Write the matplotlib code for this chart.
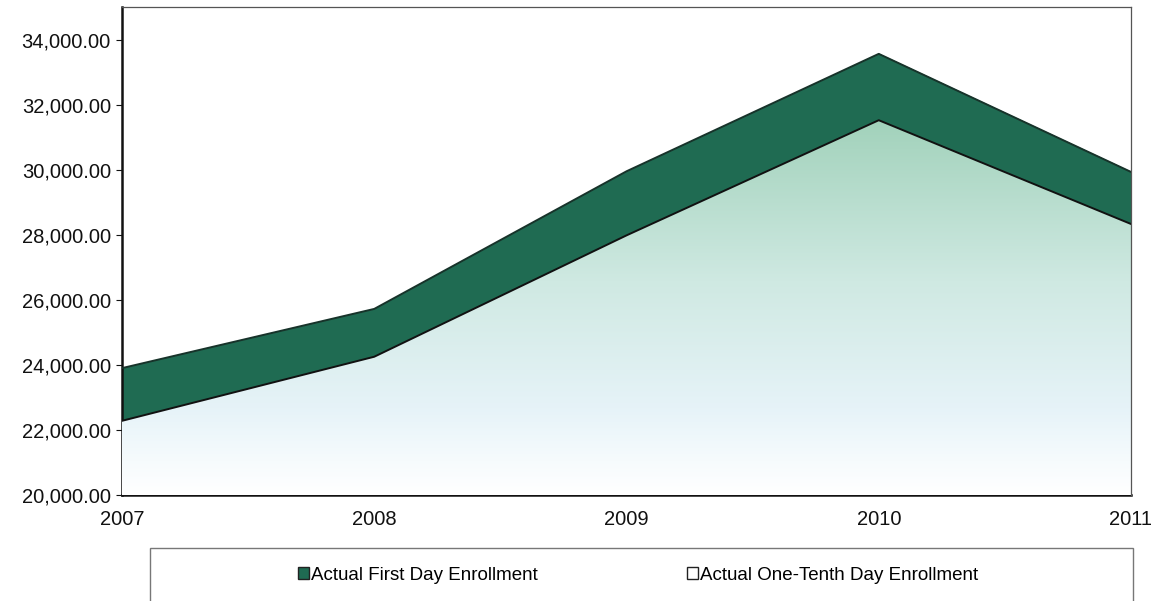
import numpy as np
import matplotlib.pyplot as plt
from matplotlib.colors import LinearSegmentedColormap
from matplotlib.patches import Polygon, Rectangle
from matplotlib.ticker import FuncFormatter

plt.rcParams['font.family'] = ['Liberation Sans', 'DejaVu Sans']

# Werte
jahre = [2007, 2008, 2009, 2010, 2011]
first_day = [23900, 25720, 29950, 33560, 29930]
one_tenth = [22280, 24250, 27980, 31520, 28330]
serien_namen = ['Actual First Day Enrollment', 'Actual One-Tenth Day Enrollment']

fig = plt.figure(figsize=(11.53, 6.01), dpi=100)
ax = fig.add_axes([122 / 1153, 1 - 495 / 601, (1131 - 122) / 1153, (495 - 7) / 601])

ymin, ymax = 20000, 35000

# dunkelgruene Flaeche (erster Tag)
ax.fill_between(jahre, ymin, first_day, color='#1f6b52', zorder=2)
ax.plot(jahre, first_day, color='#17332a', lw=1.4, zorder=4)

# Verlauf fuer die zweite Flaeche (zehnter Tag)
farben = LinearSegmentedColormap.from_list(
    'verlauf', [(0.0, '#ffffff'), (0.09, '#f6fbfd'), (0.23, '#e6f3f8'),
                (0.57, '#cfe9e2'), (1.0, '#a2d2bb')])
grad = np.linspace(0, 1, 256).reshape(-1, 1)
bild = ax.imshow(grad, cmap=farben, origin='lower', aspect='auto',
                 extent=[jahre[0], jahre[-1], ymin, max(one_tenth)], zorder=3)
poly = Polygon(list(zip(jahre, one_tenth)) + [(jahre[-1], ymin), (jahre[0], ymin)],
               closed=True, facecolor='none', edgecolor='none')
ax.add_patch(poly)
bild.set_clip_path(poly)
ax.plot(jahre, one_tenth, color='#111111', lw=1.4, zorder=4)

ax.set_xlim(jahre[0], jahre[-1])
ax.set_ylim(ymin, ymax)
ax.set_xticks(jahre)
ax.set_yticks(np.arange(20000, 34001, 2000))
ax.yaxis.set_major_formatter(FuncFormatter(lambda v, p: f'{v:,.2f}'))
ax.tick_params(axis='y', length=4, width=0.8, labelsize=14.5, colors='#111111', pad=4)
ax.tick_params(axis='x', length=0, labelsize=14.5, colors='#111111', pad=11)
for s in ['left', 'bottom']:
    ax.spines[s].set_linewidth(1.8)
    ax.spines[s].set_color('#111111')
for s in ['top', 'right']:
    ax.spines[s].set_linewidth(0.9)
    ax.spines[s].set_color('#555555')
ax.spines['right'].set_zorder(5)

# Legendenkasten
fig.patches.append(Rectangle((150 / 1153, -0.01), (1133 - 150) / 1153, (601 - 548) / 601 + 0.01,
                             transform=fig.transFigure, facecolor='white',
                             edgecolor='#777777', lw=1.0))
h1 = Rectangle((0, 0), 1, 1, facecolor='#1f6b52', edgecolor='#222222', lw=1)
h2 = Rectangle((0, 0), 1, 1, facecolor='white', edgecolor='#222222', lw=1)
fig.legend([h1, h2], serien_namen, loc='center', bbox_to_anchor=(638 / 1153, 1 - 575 / 601),
           ncol=2, frameon=False, fontsize=13.5, handlelength=0.55, handleheight=0.55,
           handletextpad=0.1, columnspacing=8.0)

fig.savefig('out.png', dpi=100)
